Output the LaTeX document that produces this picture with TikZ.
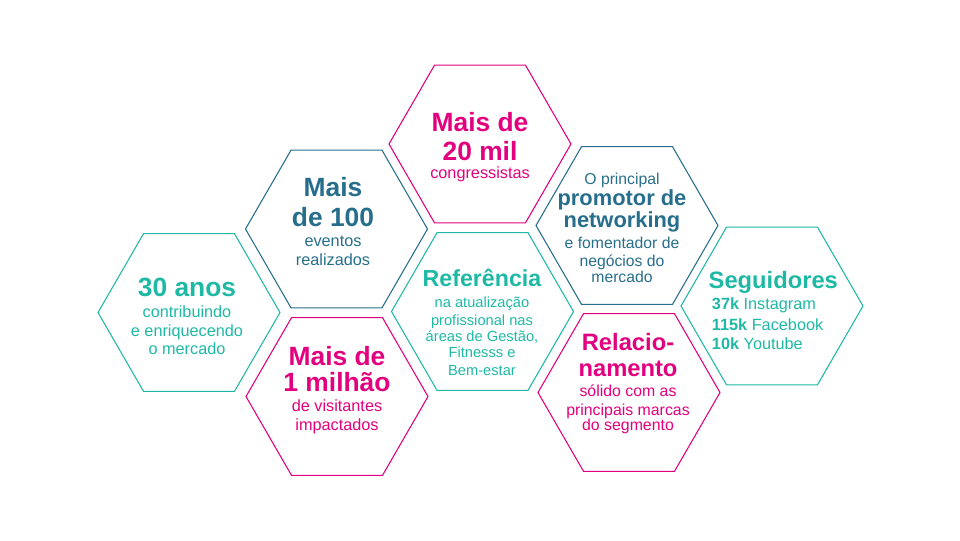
\documentclass[tikz,border=0pt]{standalone}
\usepackage{fontspec}
\setmainfont{Liberation Sans}
\usetikzlibrary{shapes.geometric}

\definecolor{hexteal}{RGB}{30,185,165}
\definecolor{hexblue}{RGB}{38,110,140}
\definecolor{hexpink}{RGB}{226,0,126}

\tikzset{
    hex/.style={regular polygon,regular polygon sides=6,minimum size=136.5pt,
        inner sep=0pt,outer sep=0pt,line width=0.8pt},
    bold/.style={font=\fontsize{#1}{#1}\selectfont\bfseries},
    txt/.style={font=\fontsize{#1}{#1}\selectfont}
}

\begin{document}
\begin{tikzpicture}[x=0.75pt,y=-0.75pt]
        \useasboundingbox (0,0) rectangle (960,540);

        % the honeycomb
        \begin{scope}[every node/.style={hex}]
            \node[draw=hexteal] (anos) at (189,312.5) {};
            \node[draw=hexblue] (eventos) at (336.5,229) {};
            \node[draw=hexpink] (milhao) at (337,396.5) {};
            \node[draw=hexpink] (congresso) at (480,144) {};
            \node[draw=hexteal] (referencia) at (482.5,311.5) {};
            \node[draw=hexblue] (networking) at (627,225.5) {};
            \node[draw=hexpink] (relacao) at (629,392.5) {};
            \node[draw=hexteal] (seguidores) at (772,306) {};
        \end{scope}

        % texts, one node per line
        \begin{scope}[every node/.style={anchor=base,inner sep=0pt}]
            \node[bold=19.8,hexteal] (anos1) at (187,296.7) {30 anos};
            \node[txt=12.2,hexteal] (anos2) at (187,317.7) {contribuindo};
            \node[txt=12.2,hexteal] (anos3) at (187,336) {e enriquecendo};
            \node[txt=12.2,hexteal] (anos4) at (187,354.3) {o mercado};

            \node[bold=19.8,hexblue] (eventos1) at (333,196.7) {Mais};
            \node[bold=19.8,hexblue] (eventos2) at (333,226) {de 100};
            \node[txt=12.2,hexblue] (eventos3) at (333,246) {eventos};
            \node[txt=12.2,hexblue] (eventos4) at (333,265) {realizados};

            \node[bold=19.8,hexpink] (milhao1) at (337,365) {Mais de};
            \node[bold=19.8,hexpink] (milhao2) at (337,391.7) {1 milhão};
            \node[txt=12.2,hexpink] (milhao3) at (337,411.7) {de visitantes};
            \node[txt=12.2,hexpink] (milhao4) at (337,430) {impactados};

            \node[bold=19.8,hexpink] (congresso1) at (480,131.7) {Mais de};
            \node[bold=19.8,hexpink] (congresso2) at (480,160) {20 mil};
            \node[txt=12.2,hexpink] (congresso3) at (480,178.3) {congressistas};

            \node[bold=17.4,hexteal] (referencia1) at (482,286.7) {Referência};
            \node[txt=11,hexteal] (referencia2) at (482,307.3) {na atualização};
            \node[txt=11,hexteal] (referencia3) at (482,325) {profissional nas};
            \node[txt=11,hexteal] (referencia4) at (482,341.7) {áreas de Gestão,};
            \node[txt=11,hexteal] (referencia5) at (482,357.7) {Fitnesss e};
            \node[txt=11,hexteal] (referencia6) at (482,375) {Bem-estar};

            \node[txt=11.8,hexblue] (networking1) at (622,184) {O principal};
            \node[bold=16.4,hexblue] (networking2) at (622,205.7) {promotor de};
            \node[bold=16.4,hexblue] (networking3) at (622,227.5) {networking};
            \node[txt=11.8,hexblue] (networking4) at (622,248.3) {e fomentador de};
            \node[txt=11.8,hexblue] (networking5) at (622,266) {negócios do};
            \node[txt=11.8,hexblue] (networking6) at (622,282.7) {mercado};

            \node[bold=17.8,hexpink] (relacao1) at (628,350) {Relacio-};
            \node[bold=17.8,hexpink] (relacao2) at (628,376.7) {namento};
            \node[txt=11.9,hexpink] (relacao3) at (628,396.7) {sólido com as};
            \node[txt=11.9,hexpink] (relacao4) at (628,415) {principais marcas};
            \node[txt=11.9,hexpink] (relacao5) at (628,430) {do segmento};

            \node[bold=17.8,hexteal] (seguidores1) at (773.3,288.3) {Seguidores};
            \node[txt=12.2,hexteal,anchor=base west] (seguidores2) at (711.7,309.3) {\textbf{37k} Instagram};
            \node[txt=12.2,hexteal,anchor=base west] (seguidores3) at (711.7,330) {\textbf{115k} Facebook};
            \node[txt=12.2,hexteal,anchor=base west] (seguidores4) at (711.7,349.3) {\textbf{10k} Youtube};
        \end{scope}
    \end{tikzpicture}
\end{document}
